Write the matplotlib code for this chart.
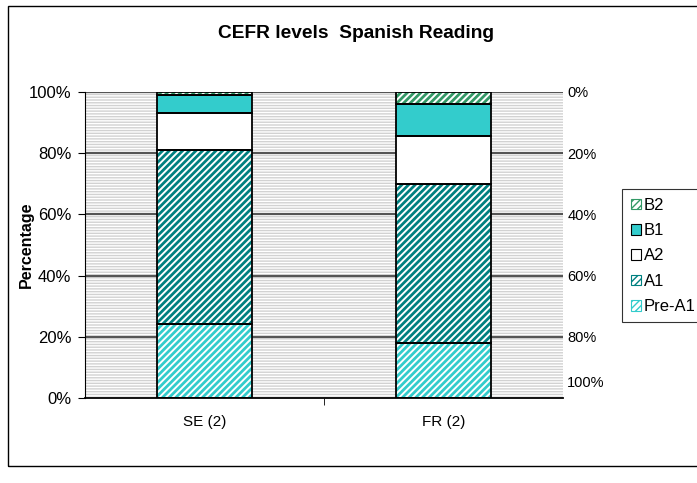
import numpy as np
import matplotlib
matplotlib.use('Agg')
import matplotlib.pyplot as plt
from matplotlib.patches import Rectangle, Patch

plt.rcParams['font.family'] = ['Liberation Sans', 'DejaVu Sans']

# data (percent)
groups = ["SE (2)", "FR (2)"]
levels = ["Pre-A1", "A1", "A2", "B1", "B2"]
pre_a1 = [24, 18]
a1 = [57, 52]
a2 = [12, 15.5]
b1 = [6, 10.5]
b2 = [1, 4]
series = [pre_a1, a1, a2, b1, b2]

left_ticks = [0, 20, 40, 60, 80, 100]
right_tick_pos = [0, 20, 40, 60, 80, 94.5]
right_tick_labels = ["0%", "20%", "40%", "60%", "80%", "100%"]

# styles: (face, hatch colour, hatch)
styles = [
    ("white", "#33cccc", "/////"),
    ("white", "#008080", "/////"),
    ("white", None, None),
    ("#33cccc", None, None),
    ("white", "#339966", "/////"),
]

fig = plt.figure(figsize=(6.97, 4.83), dpi=100)
ax = fig.add_axes([0.122, 0.176, 0.686, 0.634])

# striped background (thin hatch)
ax.set_facecolor("#d2d2d2")
with plt.rc_context({'hatch.linewidth': 1.0}):
    bg = Rectangle((0, 0), 1, 1, transform=ax.transAxes, facecolor="none",
                   edgecolor="white", hatch="------", linewidth=0, zorder=0)
    ax.add_patch(bg)
for v in left_ticks[1:]:
    ax.axhline(v, color="#555555", linewidth=1.6, zorder=1)

x = np.arange(len(groups))
bottom = np.zeros(len(groups))
width = 0.4
handles = []
with plt.rc_context({'hatch.linewidth': 2.0}):
    for name, vals, (face, hcol, hatch) in zip(levels, series, styles):
        vals = np.array(vals, dtype=float)
        if hatch:
            ax.bar(x, vals, width, bottom=bottom, color=face, edgecolor=hcol,
                   hatch=hatch, linewidth=0, zorder=2)
        else:
            ax.bar(x, vals, width, bottom=bottom, color=face, linewidth=0, zorder=2)
        ax.bar(x, vals, width, bottom=bottom, color="none", edgecolor="black",
               linewidth=1.3, zorder=3)
        bottom += vals

with plt.rc_context({'hatch.linewidth': 1.2}):
    for face, hcol, hatch in styles:
        handles.append(Patch(facecolor=face, edgecolor=hcol if hatch else "black",
                             hatch=hatch, linewidth=0.8))

ax.set_xlim(-0.5, 1.5)
ax.set_ylim(0, 100)
ax.set_yticks(left_ticks)
ax.set_yticklabels([f"{v}%" for v in left_ticks])
ax.set_xticks(x)
ax.set_xticklabels(groups)
ax.set_xticks([0.5], minor=True)
ax.tick_params(axis="x", which="major", length=0, pad=12, labelsize=11)
ax.tick_params(axis="x", which="minor", length=5, direction="out", color="black")
ax.tick_params(axis="y", length=5, direction="out", color="black", labelsize=12, pad=5)
for s in ["top", "right"]:
    ax.spines[s].set_visible(False)
ax.spines["left"].set_color("black")
ax.spines["bottom"].set_color("black")
ax.spines["bottom"].set_linewidth(1.3)
ax.set_ylabel("Percentage", fontsize=11.5, fontweight="bold", labelpad=-4)

ax2 = ax.twinx()
ax2.patch.set_visible(False)
ax2.set_ylim(100, 0)
ax2.set_yticks(right_tick_pos)
ax2.set_yticklabels(right_tick_labels)
ax2.tick_params(axis="y", length=0, pad=3, labelsize=10.5)
for s in ax2.spines.values():
    s.set_visible(False)

fig.text(0.511, 0.93, "CEFR levels  Spanish Reading", ha="center", va="center",
         fontsize=13.8, fontweight="bold")

leg = fig.legend(handles[::-1], levels[::-1], loc="center left",
                 bbox_to_anchor=(0.893, 0.47), fontsize=12, frameon=True,
                 fancybox=False, edgecolor="black", handlelength=0.6,
                 handleheight=0.6, handletextpad=0.2, labelspacing=0.62,
                 borderpad=0.5, borderaxespad=0)
leg.get_frame().set_linewidth(0.8)
leg._legend_box.sep = 0

fig.patches.append(Rectangle((8 / 697, 1 - 466 / 483), 1.0, 460 / 483,
                             transform=fig.transFigure, facecolor="none",
                             edgecolor="black", linewidth=1.0))

fig.savefig("out.png", dpi=100)
